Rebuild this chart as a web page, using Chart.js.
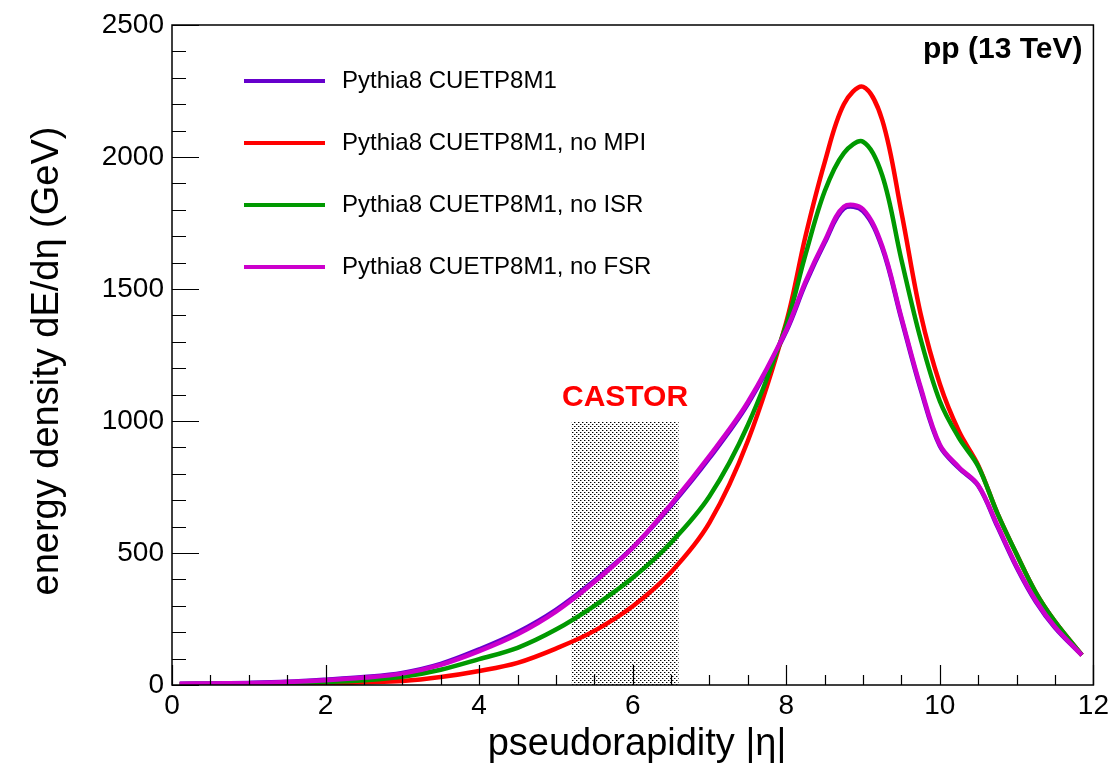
<!DOCTYPE html>
<html>
<head>
<meta charset="utf-8">
<script src="https://cdn.jsdelivr.net/npm/chart.js@4.4.0/dist/chart.umd.min.js"></script>
<style>
  html, body { margin: 0; padding: 0; background: #fff; }
  #wrap { width: 1113px; height: 771px; }
</style>
</head>
<body>
<div id="wrap"><canvas id="energyChart"></canvas></div>
<script>
// --- DATA ---
const etaValues = [0.1, 0.5, 1, 1.5, 2, 2.5, 3, 3.5, 4, 4.5, 5, 5.5, 6, 6.5, 7, 7.5, 8, 8.25, 8.5, 8.75, 9, 9.25, 9.5, 9.75, 10, 10.25, 10.5, 10.75, 11, 11.25, 11.5, 11.85];
const nominal = [5, 6, 8, 12, 20, 30, 46, 80, 135, 200, 285, 395, 520, 680, 860, 1065, 1340, 1520, 1675, 1805, 1795, 1655, 1385, 1120, 905, 821, 755, 600, 445, 315, 217, 113];
const noMPI = [1, 2, 3, 4, 6, 10, 15, 30, 53, 84, 138, 205, 298, 428, 615, 925, 1375, 1700, 1980, 2200, 2266, 2140, 1790, 1405, 1140, 960, 832, 650, 495, 350, 240, 113];
const noISR = [3, 4, 5, 7, 11, 18, 31, 58, 98, 141, 210, 300, 406, 540, 715, 985, 1365, 1630, 1870, 2015, 2058, 1930, 1610, 1310, 1075, 935, 828, 650, 495, 350, 240, 113];
const noFSR = [5, 6, 7, 11, 18, 28, 43, 76, 128, 192, 278, 390, 520, 685, 868, 1072, 1345, 1528, 1682, 1812, 1802, 1662, 1392, 1128, 910, 825, 757, 605, 450, 320, 220, 113];
const castorRange = [5.2, 6.6];
const castorHeight = 1000;
const seriesLabels = ['Pythia8 CUETP8M1', 'Pythia8 CUETP8M1, no MPI', 'Pythia8 CUETP8M1, no ISR', 'Pythia8 CUETP8M1, no FSR'];
const seriesColors = ['#6600cc', '#ff0000', '#009900', '#cc00cc'];
const xTickStep = 2, xMinorStep = 0.5;
const yTickStep = 500, yMinorStep = 100;

const FONT = '"Liberation Sans", Arial, Helvetica, sans-serif';

// titik-titik untuk kotak CASTOR
function makeDotPattern() {
    const c = document.createElement('canvas');
    c.width = 4; c.height = 4;
    const g = c.getContext('2d');
    g.fillStyle = '#ffffff';
    g.fillRect(0, 0, 4, 4);
    g.fillStyle = '#000000';
    g.fillRect(0, 0, 1, 1);
    g.fillRect(2, 2, 1, 1);
    g.fillStyle = '#999999';
    g.fillRect(1, 0, 1, 1);
    g.fillRect(3, 2, 1, 1);
    return g.createPattern(c, 'repeat');
}

function toPoints(ys) {
    return etaValues.map((x, i) => ({ x: x, y: ys[i] }));
}

// --- PLUGIN: frame, inward ticks, legend, labels ---
const rootStyle = {
    id: 'rootStyle',
    afterDraw(chart) {
        const { ctx, chartArea: a, scales: { x, y } } = chart;
        ctx.save();
        ctx.strokeStyle = '#000';
        ctx.lineWidth = 1.5;
        ctx.strokeRect(a.left, a.top, a.right - a.left, a.bottom - a.top);

        ctx.lineWidth = 1.2;
        ctx.beginPath();
        for (let v = x.min; v <= x.max + 1e-9; v += xMinorStep) {
            const px = Math.round(x.getPixelForValue(v)) + 0.5;
            const major = Math.abs(v / xTickStep - Math.round(v / xTickStep)) < 1e-6;
            ctx.moveTo(px, a.bottom);
            ctx.lineTo(px, a.bottom - (major ? 20 : 10));
        }
        for (let v = y.min; v <= y.max + 1e-9; v += yMinorStep) {
            const py = Math.round(y.getPixelForValue(v)) + 0.5;
            const major = v % yTickStep === 0;
            ctx.moveTo(a.left, py);
            ctx.lineTo(a.left + (major ? 27 : 14), py);
        }
        ctx.stroke();

        // legend
        ctx.font = '24px ' + FONT;
        ctx.textBaseline = 'middle';
        ctx.textAlign = 'left';
        seriesLabels.forEach((lab, i) => {
            const ly = 81 + i * 62;
            ctx.strokeStyle = seriesColors[i];
            ctx.lineWidth = 4;
            ctx.beginPath();
            ctx.moveTo(244, ly);
            ctx.lineTo(325, ly);
            ctx.stroke();
            ctx.fillStyle = '#000';
            ctx.fillText(lab, 342, ly);
        });

        // CASTOR label
        ctx.fillStyle = '#ff0000';
        ctx.font = 'bold 30px ' + FONT;
        ctx.textAlign = 'center';
        ctx.fillText('CASTOR', x.getPixelForValue((castorRange[0] + castorRange[1]) / 2), y.getPixelForValue(castorHeight) - 23);

        // pp label
        ctx.fillStyle = '#000';
        ctx.textAlign = 'right';
        ctx.fillText('pp (13 TeV)', a.right - 11, 50);

        // axis titles
        ctx.font = '38px ' + FONT;
        ctx.textAlign = 'center';
        ctx.fillText('pseudorapidity |η|', 637, 745);
        ctx.translate(48, (a.top + a.bottom) / 2 + 6);
        ctx.rotate(-Math.PI / 2);
        ctx.fillText('energy density dE/dη (GeV)', 0, 0);
        ctx.restore();
    }
};

const curveStyle = (i) => ({
    label: seriesLabels[i],
    borderColor: seriesColors[i],
    backgroundColor: seriesColors[i],
    borderWidth: 4.5,
    pointRadius: 0,
    fill: false,
    tension: 0.35
});

const ctx = document.getElementById('energyChart').getContext('2d');
window.energyChart = new Chart(ctx, {
    type: 'line',
    data: {
        datasets: [
            { ...curveStyle(3), data: toPoints(noFSR), order: 1 },
            { ...curveStyle(2), data: toPoints(noISR), order: 2 },
            { ...curveStyle(1), data: toPoints(noMPI), order: 3 },
            { ...curveStyle(0), data: toPoints(nominal), order: 4 },
            {
                label: 'CASTOR',
                data: [{ x: castorRange[0], y: castorHeight }, { x: castorRange[1], y: castorHeight }],
                fill: 'origin',
                backgroundColor: makeDotPattern(),
                borderWidth: 0,
                pointRadius: 0,
                tension: 0,
                order: 10
            }
        ]
    },
    options: {
        responsive: true,
        maintainAspectRatio: false,
        animation: false,
        layout: { padding: { left: 0, right: 16, top: 25, bottom: 0 } },
        plugins: { legend: { display: false }, tooltip: { enabled: false } },
        scales: {
            x: {
                type: 'linear',
                min: 0, max: 12,
                grid: { display: false, drawTicks: false },
                border: { display: false },
                ticks: { stepSize: xTickStep, padding: 4, color: '#000', font: { family: FONT, size: 28 },
                    callback: (v) => String(v) },
                afterFit: (s) => { s.height = 86; }
            },
            y: {
                type: 'linear',
                min: 0, max: 2500,
                grid: { display: false, drawTicks: false },
                border: { display: false },
                ticks: { stepSize: yTickStep, padding: 8, color: '#000', font: { family: FONT, size: 28 },
                    callback: (v) => String(v) },
                afterFit: (s) => { s.width = 172; }
            }
        }
    },
    plugins: [rootStyle]
});
</script>
</body>
</html>
